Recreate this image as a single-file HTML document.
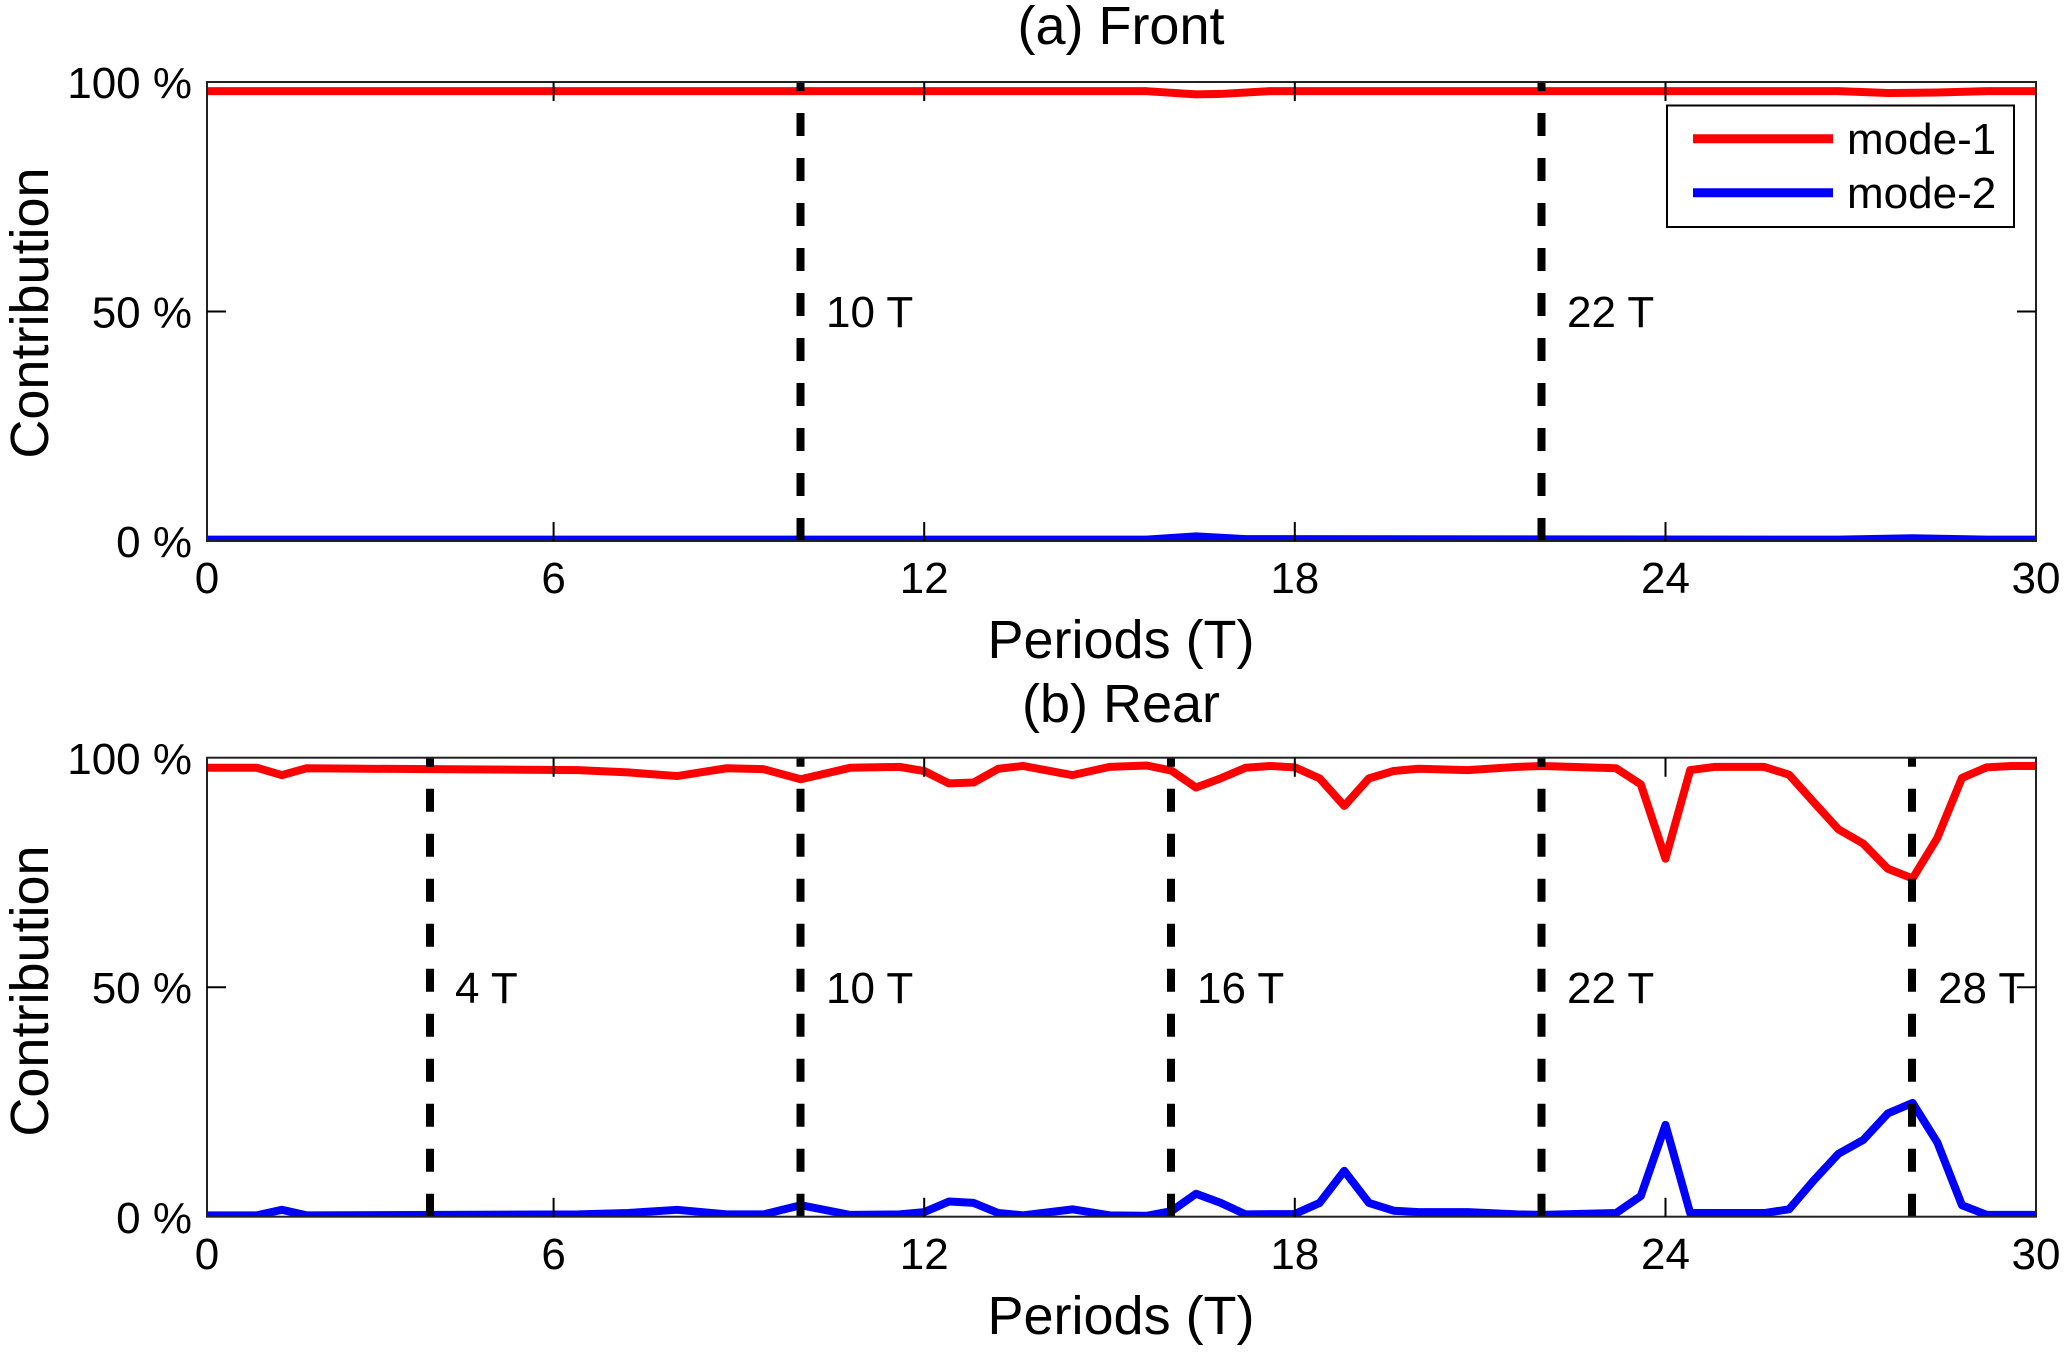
<!DOCTYPE html>
<html><head><meta charset="utf-8"><style>
html,body{margin:0;padding:0;background:#fff;}
svg text{font-family:"Liberation Sans",Arial,sans-serif;fill:#000;}
</style></head><body>
<svg width="2067" height="1352" viewBox="0 0 2067 1352" xmlns="http://www.w3.org/2000/svg">
<defs>
<clipPath id="c1"><rect x="207" y="82" width="1829" height="459"/></clipPath>
<clipPath id="c2"><rect x="207" y="757.7" width="1829" height="459"/></clipPath>
</defs>
<rect width="2067" height="1352" fill="#fff"/>

<!-- ===== Top panel ===== -->
<text x="1121" y="44" font-size="54" text-anchor="middle">(a) Front</text>
<g clip-path="url(#c1)">
 <g transform="translate(183,541) scale(61.77,-4.59)">
  <polyline fill="none" stroke="#ff0000" stroke-width="8" vector-effect="non-scaling-stroke" stroke-linejoin="round"
   points="0.4,98 15.6,98 16.4,97.3 16.8,97.4 17.6,98 26.8,98 27.6,97.6 28.4,97.7 29.2,98 30,98"/>
  <polyline fill="none" stroke="#0000ff" stroke-width="8" vector-effect="non-scaling-stroke" stroke-linejoin="round"
   points="0.4,0.3 15.6,0.3 16.4,1.0 17.2,0.4 26.8,0.3 28,0.6 29.2,0.3 30,0.3"/>
 </g>
 <g stroke="#000" stroke-width="8" stroke-dasharray="23 22">
  <line x1="800.5" y1="68" x2="800.5" y2="545"/>
  <line x1="1541.5" y1="68" x2="1541.5" y2="545"/>
 </g>
</g>
<text x="826" y="327" font-size="44">10 T</text>
<text x="1567" y="327" font-size="44">22 T</text>
<g stroke="#000" stroke-width="2" fill="none">
 <rect x="207" y="82" width="1829" height="459" stroke="#222"/>
 <path d="M553.6,541v-19M553.6,82v19M924.2,541v-19M924.2,82v19M1294.8,541v-19M1294.8,82v19M1665.5,541v-19M1665.5,82v19
 M207,311.5h19M2036,311.5h-19"/>
</g>
<g font-size="44" text-anchor="end">
 <text x="192" y="98">100 %</text>
 <text x="192" y="327.5">50 %</text>
 <text x="192" y="557">0 %</text>
</g>
<g font-size="44" text-anchor="middle">
 <text x="207" y="593">0</text><text x="553.6" y="593">6</text><text x="924.2" y="593">12</text>
 <text x="1294.8" y="593">18</text><text x="1665.5" y="593">24</text><text x="2036" y="593">30</text>
</g>
<text x="1121" y="658" font-size="54" text-anchor="middle">Periods (T)</text>
<text transform="translate(48,313) rotate(-90)" font-size="54" text-anchor="middle">Contribution</text>
<!-- legend -->
<rect x="1667" y="105.5" width="347" height="121.5" fill="#fff" stroke="#000" stroke-width="2"/>
<line x1="1693" y1="138.7" x2="1833" y2="138.7" stroke="#ff0000" stroke-width="9"/>
<line x1="1693" y1="192.7" x2="1833" y2="192.7" stroke="#0000ff" stroke-width="9"/>
<text x="1847" y="154" font-size="44">mode-1</text>
<text x="1847" y="208" font-size="44">mode-2</text>

<!-- ===== Bottom panel ===== -->
<text x="1121" y="722" font-size="54" text-anchor="middle">(b) Rear</text>
<g clip-path="url(#c2)">
 <g transform="translate(183,1216.7) scale(61.77,-4.59)">
  <polyline fill="none" stroke="#ff0000" stroke-width="8" vector-effect="non-scaling-stroke" stroke-linejoin="round"
   points="0.4,97.8 1.2,97.8 1.6,96.2 2.0,97.7 4.0,97.5 6.4,97.3 7.2,96.8 8.0,96 8.8,97.7 9.4,97.5 10,95.3 10.8,97.8 11.6,98 12,97.1 12.4,94.4 12.8,94.6 13.2,97.6 13.6,98.2 14.4,96.2 15.0,98 15.6,98.3 16.0,97.2 16.4,93.5 16.8,95.5 17.2,97.8 17.6,98.2 18.0,97.9 18.4,95.5 18.8,89.5 19.2,95.5 19.6,97.1 20,97.6 20.8,97.3 21.6,98 22,98.2 23.2,97.7 23.6,94.2 24,78 24.4,97.3 24.8,98 25.6,98 26,96.3 26.4,90.3 26.8,84.4 27.2,81.3 27.6,75.8 28,73.7 28.4,82.5 28.8,95.6 29.2,97.9 29.6,98.2 30,98.2"/>
  <polyline fill="none" stroke="#0000ff" stroke-width="8" vector-effect="non-scaling-stroke" stroke-linejoin="round"
   points="0.4,0.3 1.2,0.3 1.6,1.5 2.0,0.3 6.4,0.5 7.2,0.8 8.0,1.5 8.8,0.5 9.4,0.5 10,2.5 10.8,0.4 11.6,0.5 12,1 12.4,3.3 12.8,3 13.2,0.8 13.6,0.3 14.4,1.6 15,0.3 15.6,0.2 16,1.2 16.4,5 16.8,3 17.2,0.5 18,0.6 18.4,3 18.8,10 19.2,3 19.6,1.3 20,1 20.8,1 21.6,0.5 22,0.4 23.2,0.8 23.6,4.5 24,20 24.4,0.8 25.6,0.8 26,1.6 26.4,7.9 26.8,13.7 27.2,16.7 27.6,22.5 28,24.8 28.4,16.2 28.8,2.5 29.2,0.4 30,0.4"/>
 </g>
 <g stroke="#000" stroke-width="8" stroke-dasharray="23 22">
  <line x1="430" y1="743.7" x2="430" y2="1221"/>
  <line x1="800.5" y1="743.7" x2="800.5" y2="1221"/>
  <line x1="1171" y1="743.7" x2="1171" y2="1221"/>
  <line x1="1541.5" y1="743.7" x2="1541.5" y2="1221"/>
  <line x1="1912" y1="743.7" x2="1912" y2="1221"/>
 </g>
</g>
<g font-size="44">
 <text x="455" y="1003">4 T</text>
 <text x="826" y="1003">10 T</text>
 <text x="1197" y="1003">16 T</text>
 <text x="1567" y="1003">22 T</text>
 <text x="1938" y="1003">28 T</text>
</g>
<g stroke="#000" stroke-width="2" fill="none">
 <rect x="207" y="757.7" width="1829" height="459" stroke="#222"/>
 <path d="M553.6,1216.7v-19M553.6,757.7v19M924.2,1216.7v-19M924.2,757.7v19M1294.8,1216.7v-19M1294.8,757.7v19M1665.5,1216.7v-19M1665.5,757.7v19
 M207,987.2h19M2036,987.2h-19"/>
</g>
<g font-size="44" text-anchor="end">
 <text x="192" y="774">100 %</text>
 <text x="192" y="1003">50 %</text>
 <text x="192" y="1233">0 %</text>
</g>
<g font-size="44" text-anchor="middle">
 <text x="207" y="1269">0</text><text x="553.6" y="1269">6</text><text x="924.2" y="1269">12</text>
 <text x="1294.8" y="1269">18</text><text x="1665.5" y="1269">24</text><text x="2036" y="1269">30</text>
</g>
<text x="1121" y="1334" font-size="54" text-anchor="middle">Periods (T)</text>
<text transform="translate(48,991) rotate(-90)" font-size="54" text-anchor="middle">Contribution</text>
</svg>
</body></html>
